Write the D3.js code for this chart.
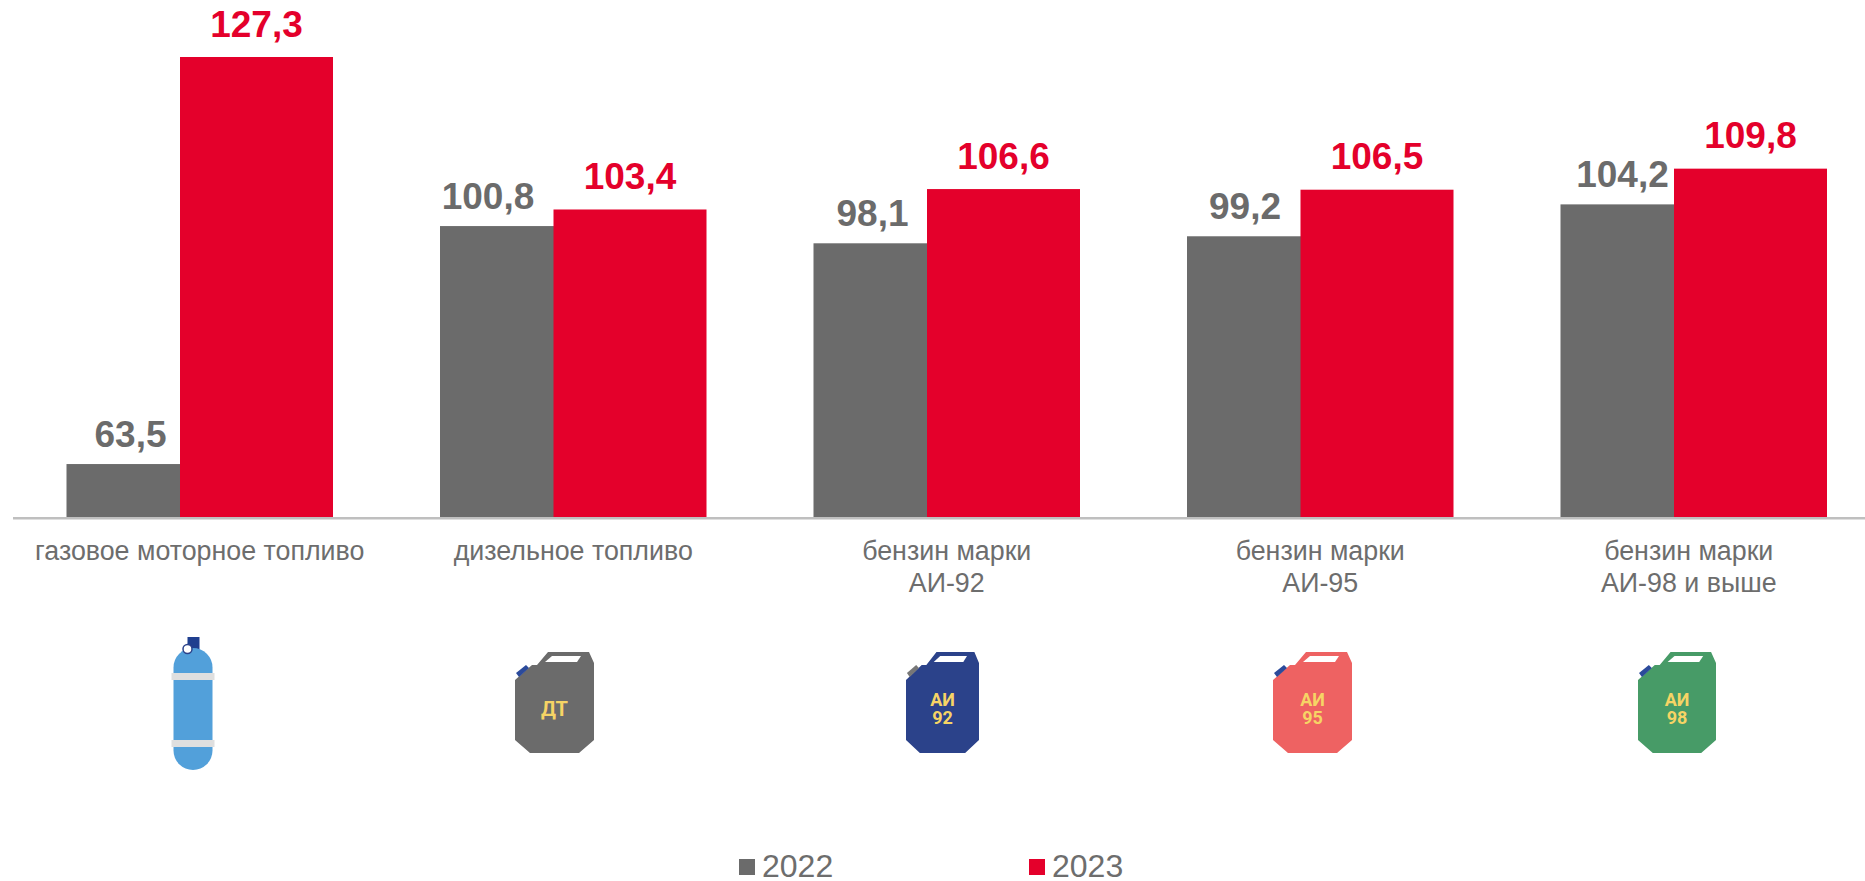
<!DOCTYPE html>
<html lang="ru"><head><meta charset="utf-8">
<script src="https://cdn.jsdelivr.net/npm/d3@7"></script>
<style>html,body{margin:0;padding:0;background:#fff;overflow:hidden}svg{display:block}text{font-family:"Liberation Sans",Arial,sans-serif}</style>
</head><body><div id="c"></div>
<script>
const categories=[["газовое моторное топливо"],["дизельное топливо"],["бензин марки","АИ-92"],["бензин марки","АИ-95"],["бензин марки","АИ-98 и выше"]];
const series2022=[63.5,100.8,98.1,99.2,104.2];
const series2023=[127.3,103.4,106.6,106.5,109.8];
const years=["2022","2023"];
const C={grey:"#6b6b6b",red:"#e4002b",axis:"#bfbfbf",text:"#6d6d6d",yellow:"#f6d465"};
const W=1865,H=881,base=517;
const svg=d3.select("#c").append("svg").attr("width",W).attr("height",H);
const ids=d3.range(categories.length);
const x=d3.scaleBand().domain(ids).range([13,1880.5]);
const y=d3.scaleLinear().domain([55.2,127.3]).range([base,57]);
const fmt=v=>v.toFixed(1).replace(".",",");
const gx=i=>x(i)+53.5, rx=i=>x(i)+167, bw=153;
// bars
svg.selectAll("rect.g").data(series2022).join("rect").attr("x",(d,i)=>gx(i)).attr("y",d=>y(d)).attr("width",bw).attr("height",d=>base-y(d)).attr("fill",C.grey);
svg.selectAll("rect.r").data(series2023).join("rect").attr("class","r").attr("x",(d,i)=>rx(i)).attr("y",d=>y(d)).attr("width",bw).attr("height",d=>base-y(d)).attr("fill",C.red);
// axis
svg.append("rect").attr("x",13).attr("y",base).attr("width",W-13).attr("height",2.5).attr("fill",C.axis);
// value labels
const gOff=[64,48,59,58,62];
svg.selectAll("text.gv").data(series2022).join("text").attr("class","gv").attr("x",(d,i)=>gx(i)+gOff[i]).attr("y",d=>y(d)-17).attr("text-anchor","middle").attr("font-size",37).attr("font-weight",700).attr("fill",C.grey).text(fmt);
svg.selectAll("text.rv").data(series2023).join("text").attr("class","rv").attr("x",(d,i)=>rx(i)+bw/2).attr("y",d=>y(d)-20.5).attr("text-anchor","middle").attr("font-size",37).attr("font-weight",700).attr("fill",C.red).text(fmt);
// category labels
const lab=svg.selectAll("text.cat").data(categories).join("text").attr("class","cat").attr("text-anchor","middle").attr("font-size",26.8).attr("fill",C.text);
lab.each(function(d,i){d3.select(this).selectAll("tspan").data(d).join("tspan").attr("x",x(i)+x.bandwidth()/2-(i==4?5:0)).attr("y",(t,j)=>560+j*31.5).text(t=>t);});
// icons
function cylinder(g,cx){
 g.append("rect").attr("x",cx-5.5).attr("y",637).attr("width",12).attr("height",13).attr("fill","#1f3f8f");
 g.append("rect").attr("x",cx-19.5).attr("y",648).attr("width",39).attr("height",122).attr("rx",19.5).attr("fill","#52a0da");
 [673,740].forEach(b=>g.append("rect").attr("x",cx-21.5).attr("y",b).attr("width",43).attr("height",7).attr("fill","#dfdfdf"));
 g.append("circle").attr("cx",cx-5.5).attr("cy",649).attr("r",4.5).attr("fill","#fff").attr("stroke","#2b428a").attr("stroke-width",1.5);
}
function canister(g,cx,w,col,cap,lines){
 const sx=w/79, X=v=>cx-39.5*sx+v*sx, Y=v=>652+v, line=d3.line();
 const body=[[0,28],[17,13],[22,13],[33,0],[74,0],[79,11],[79,88],[64,101],[15,101],[0,88]];
 g.append("path").attr("d",line(body.map(p=>[X(p[0]),Y(p[1])]))+"Z").attr("fill",col);
 g.append("path").attr("d",line([[37,4],[66,4],[62,10],[30,10]].map(p=>[X(p[0]),Y(p[1])]))+"Z").attr("fill","#fff");
 g.append("path").attr("d",line([[1,21],[11,13],[14,16],[4,25]].map(p=>[X(p[0]),Y(p[1])]))+"Z").attr("fill",cap);
 const ys=lines.length==1?[716]:[706,724];
 lines.forEach((t,i)=>g.append("text").attr("x",cx).attr("y",ys[i]).attr("text-anchor","middle").attr("font-size",lines.length==1?20:18).attr("font-weight",700).attr("style","font-family:Roboto,sans-serif").attr("fill",C.yellow).text(t));
}
const ic=svg.append("g");
cylinder(ic,193);
canister(ic,554.5,79,"#6b6b6b","#2b4a9b",["ДТ"]);
canister(ic,942.5,73,"#2b428a","#777777",["АИ","92"]);
canister(ic,1312.5,79,"#ee6262","#2b4a9b",["АИ","95"]);
canister(ic,1677,78,"#479b67","#2b4a9b",["АИ","98"]);
// legend
const lg=svg.selectAll("g.l").data(years).join("g").attr("class","l");
const lx=[739,1029];
lg.append("rect").attr("x",(d,i)=>lx[i]).attr("y",859).attr("width",16).attr("height",16).attr("fill",(d,i)=>i?C.red:C.grey);
lg.append("text").attr("x",(d,i)=>lx[i]+23).attr("y",876.5).attr("font-size",32).attr("fill",C.text).text(d=>d);
</script></body></html>
